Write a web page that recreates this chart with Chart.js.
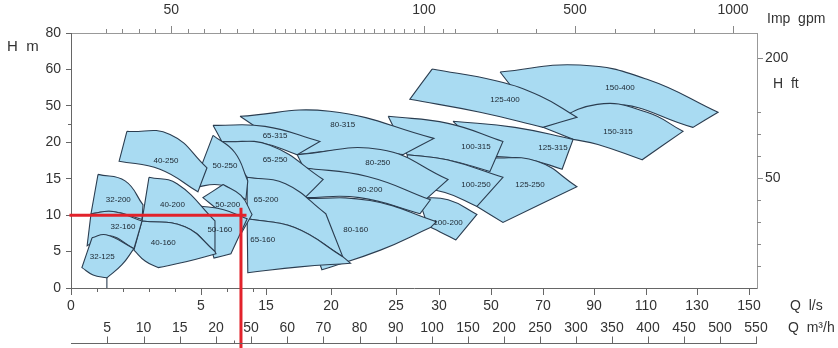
<!DOCTYPE html>
<html>
<head>
<meta charset="utf-8">
<script src="https://cdn.jsdelivr.net/npm/chart.js@4.4.1/dist/chart.umd.min.js"></script>
<style>
  html, body { margin: 0; padding: 0; background: #fff; }
</style>
</head>
<body>
<canvas id="c" width="838" height="348"></canvas>
<script>
// ---- axis values ----
const qLabels = [0, 5, 15, 20, 25, 30, 50, 70, 90, 110, 130, 150];           // Q l/s
const qMinor = [1, 2, 3, 4, 9, 13];
const m3Labels = [5, 10, 15, 20, 50, 60, 70, 80, 90, 100, 150, 200, 250, 300, 350, 400, 450, 500, 550]; // Q m3/h
const m3Minor = [35];
const hLabels = [0, 5, 10, 15, 20, 50, 60, 80];                               // H m
const hMinor = [35];
const ftLabels = [50, 200];                                                    // H ft
const ftMinor = [10, 20, 30, 40, 60, 70, 80];
const gpmLabels = [50, 100, 500, 1000];                                        // Imp gpm
const gpmMinor = [30, 35, 40, 45, 55, 60, 65, 70, 75, 85, 86, 87, 88, 89, 90, 91, 92, 93, 94, 95, 96, 97, 98, 99,
  150, 200, 300, 400, 625, 750, 875];

// ---- pump ranges (Q l/s, H m); each outline is a list of curve pieces, pieces meet at corners ----
const models = ['150-400', '150-315', '125-400', '125-315', '125-250', '100-315', '100-250', '100-200',
  '80-315', '80-250', '80-200', '80-160', '65-315', '65-250', '65-200', '65-160',
  '50-250', '50-200', '50-160', '40-250', '40-200', '40-160', '32-200', '32-160', '32-125'];

const outlines = [
  [[[53.5, 59.3], [84.5, 62.4], [110.4, 57.3], [138.1, 44.7]], [[128.4, 32.3], [96.2, 50.4], [70, 32.3]]],
  [[[70, 32.3], [91.2, 50.4], [110.4, 44.7], [124.5, 29.0]], [[108.5, 17.6], [91.5, 19.7], [81.8, 22.4]]],
  [[[29.2, 60.2], [52.3, 56.8], [68.9, 52.7], [83.3, 40.6]], [[70, 32.3], [45.8, 44.7], [26.6, 51.8]]],
  [[[35.4, 37.3], [59.2, 32.3], [81.8, 22.4]], [[77.5, 16.3], [65.0, 17.6], [49.6, 18.1]]],
  [[[49.6, 17.9], [67.7, 17.4], [83.3, 13.9]], [[54.6, 9.0], [44.6, 11.2]]],
  [[[24.4, 41.4], [33.5, 35.6], [54.6, 20.7]], [[49.6, 16.0], [33.1, 17.6], [26.3, 18.3]]],
  [[[26.3, 18.3], [33.1, 17.6], [54.6, 15.2]], [[44.6, 11.2], [32.3, 13.1], [26.6, 13.9]]],
  [[[27.6, 12.4], [33.5, 12.1], [44.6, 10.1]], [[36.5, 6.6], [30.4, 7.7], [28.7, 8.5]]],
  [[[11.0, 41.4], [19.9, 45.5], [29.4, 23.2]], [[25.8, 18.3], [21.5, 19.0], [17.4, 18.3]]],
  [[[17.4, 18.3], [23.8, 19.0], [33.5, 14.9]], [[28.4, 12.1], [22.6, 14.9], [17.9, 16.5]]],
  [[[17.9, 16.5], [22.8, 15.3], [29.0, 12.1]], [[27.8, 10.2], [22.2, 12.4], [18.0, 12.4]]],
  [[[17.4, 12.3], [23.0, 12.0], [29.7, 9.1]], [[29.0, 8.3], [23.8, 5.2], [19.3, 2.5]]],
  [[[6.85, 34.0], [14.85, 33.1], [19.15, 20.7]], [[17.4, 18.3], [14.4, 19.9], [8.2, 20.7]]],
  [[[8.2, 20.7], [15.3, 19.6], [19.4, 14.9]], [[18.0, 12.4], [15.5, 14.6], [12.1, 15.2]]],
  [[[12.1, 15.2], [16.5, 14.3], [19.6, 10.2]], [[20.9, 4.3], [17.2, 8.3], [12.1, 9.5]]],
  [[[12.1, 9.5], [17.2, 8.3], [20.9, 4.3]], [[21.5, 3.4], [17.6, 2.9], [12.2, 2.1]]],
  [[[6.85, 25.7], [10.2, 18.6], [12.2, 14.7]], [[11.9, 12.1], [8.2, 14.1], [4.7, 13.8]]],
  [[[8.4, 14.2], [11.15, 12.7], [12.85, 10.1]], [[11.0, 7.2], [8.2, 10.2], [5.3, 12.4]]],
  [[[4.9, 11.3], [8.5, 10.75], [12.1, 9.5]], [[9.6, 4.7], [7.0, 4.1]]],
  [[[2.15, 29.0], [3.81, 26.5], [5.92, 16.5]], [[4.88, 13.2], [3.42, 16.3], [1.85, 17.4]]],
  [[[3.0, 15.2], [4.08, 14.3], [7.15, 9.2]], [[7.15, 5.0], [4.38, 8.4], [2.73, 9.2]]],
  [[[2.73, 9.2], [4.38, 8.4], [7.15, 5.0]], [[7.31, 4.7], [4.42, 3.6], [3.35, 2.8]], [[3.35, 2.8], [2.85, 3.7], [2.42, 5.2]]],
  [[[1.04, 15.6], [2.08, 14.7], [2.77, 11.4]], [[2.73, 9.4], [1.62, 10.5], [0.77, 10.2]]],
  [[[0.77, 10.2], [1.62, 10.5], [2.73, 9.2]], [[2.42, 5.4], [1.42, 7.2], [0.62, 5.8]]],
  [[[0.81, 6.9], [1.35, 7.3], [2.42, 5.4]], [[2.42, 5.4], [1.96, 3.2], [1.38, 1.4]], [[1.38, 1.4], [0.85, 1.8], [0.42, 2.8]]]
];

const labelQ = [100, 99.2, 55.4, 73.9, 65.0, 44.2, 44.2, 33.5, 20.9, 23.6, 23.0, 21.9, 15.7, 15.7, 15.0, 14.5,
  8.7, 9.1, 7.9, 3.65, 3.9, 3.55, 1.82, 2.0, 1.2];
const labelH = [54.9, 29.0, 51.8, 19.3, 14.2, 19.4, 14.2, 9.0, 34.8, 17.2, 13.5, 8.0, 25.7, 17.6, 12.1, 6.6,
  16.8, 11.4, 8.0, 17.5, 11.4, 6.2, 12.1, 8.4, 4.3];

const stem = [[1.38, 1.4], [1.38, 0]];          // foot of 32-125
const dutyQ = 11.15, dutyH = 10;                // red duty point lines
const dutyLineH = [[-0.06, dutyH], [12.0, dutyH]];
const dutyLineQ = [[dutyQ, 11.0], [dutyQ, -9]];

// ---- broken (piecewise linear) scale ----
class BrokenScale extends Chart.LinearScale {
  static id = 'broken';
  _seg(list, key, v) {
    let i = 1;
    while (i < list.length - 1 && v > list[i][key]) i++;
    return i;
  }
  getPixelForValue(value) {
    const s = this.options.stops, last = s[s.length - 1][1];
    const i = this._seg(s, 0, value);
    const [v0, p0] = s[i - 1], [v1, p1] = s[i];
    const pos = p0 + (value - v0) * (p1 - p0) / (v1 - v0);
    return this.getPixelForDecimal(pos / last);
  }
  getValueForPixel(pixel) {
    const s = this.options.stops, last = s[s.length - 1][1];
    const pos = this.getDecimalForPixel(pixel) * last;
    const i = this._seg(s, 1, pos);
    const [v0, p0] = s[i - 1], [v1, p1] = s[i];
    return v0 + (pos - p0) * (v1 - v0) / (p1 - p0);
  }
  buildTicks() {
    return this.options.tickValues.map(v => ({ value: v }));
  }
}
Chart.register(BrokenScale);

// scale layouts: [value, position along axis]
const qStops = [[0, 0], [5, 130], [15, 195], [20, 260], [25, 325], [30, 368], [50, 420], [70, 472],
  [90, 523], [110, 575], [130, 626], [150, 678], [153.1, 686]];
const m3Stops = [[0, 0], [20, 145], [50, 180], [100, 361], [550, 685], [551.4, 686]];
const gpmStops = [[19.29, 0], [30, 35], [75, 182], [85, 204], [100, 353], [150, 372], [200, 384],
  [300, 426], [500, 504], [1000, 662], [1075.9, 686]];
const hStops = [[0, 0], [5, 1], [10, 2], [15, 3], [20, 4], [50, 5], [60, 6], [80, 7]];
const ftStops = [[0, 0], [80, 176], [200, 230], [255.6, 255]];

function outlinePoints(pieces) {
  const pts = [];
  pieces.forEach(piece => {
    piece.forEach(([q, h], k) => {
      pts.push({ x: q, y: h });
      if (k === 0 || k === piece.length - 1) pts.push({ x: q, y: h });
    });
  });
  pts.push({ x: pieces[0][0][0], y: pieces[0][0][1] });
  return pts;
}
const xy = arr => arr.map(([x, y]) => ({ x, y }));

const FAMILY = '"Liberation Sans", Arial, Helvetica, sans-serif';
Chart.defaults.font.family = FAMILY;
const tickText = { color: '#333', font: { size: 14 }, autoSkip: false, maxRotation: 0, callback: v => String(v) };
const grid = (color, len) => ({ display: true, drawOnChartArea: false, drawTicks: true, tickLength: len, color, tickColor: color });

const datasets = models.map((m, i) => ({
  label: m,
  data: outlinePoints(outlines[i]),
  fill: 'shape',
  backgroundColor: '#a9dbf2',
  borderColor: '#2b3d50',
  borderWidth: 1.1,
  tension: 0.45,
  pointRadius: 0,
  order: 10 + models.length - i
}));
datasets.push({ data: xy(stem), borderColor: '#2b3d50', borderWidth: 1.1, pointRadius: 0, fill: false, order: 5 });
[dutyLineH, dutyLineQ].forEach(line => datasets.push({
  data: xy(line), borderColor: '#e2222b', borderWidth: 3, pointRadius: 0, fill: false, clip: false, order: 0
}));

const extras = {
  id: 'extras',
  afterDatasetsDraw(chart) {
    const { ctx, scales } = chart;
    ctx.save();
    ctx.fillStyle = '#1c2630';
    ctx.font = '8px ' + FAMILY;
    ctx.textAlign = 'center';
    ctx.textBaseline = 'middle';
    models.forEach((m, i) => {
      ctx.fillText(m, scales.x.getPixelForValue(labelQ[i]), scales.y.getPixelForValue(labelH[i]));
    });
    ctx.restore();
  },
  afterDraw(chart) {
    const { ctx, scales: { x, x2, xt, y, y2 } } = chart;
    const line = (a, b, c, d) => { ctx.beginPath(); ctx.moveTo(a, b); ctx.lineTo(c, d); ctx.stroke(); };
    const px = (s, v) => Math.round(s.getPixelForValue(v)) + 0.5;
    ctx.save();
    ctx.lineWidth = 1;
    ctx.strokeStyle = '#666';
    qMinor.forEach(v => line(px(x, v), x.top, px(x, v), x.top + 4));
    hMinor.forEach(v => line(y.right - 3, px(y, v), y.right, px(y, v)));
    ctx.strokeStyle = '#888';
    gpmMinor.forEach(v => line(px(xt, v), xt.bottom, px(xt, v), xt.bottom - 4));
    ftMinor.forEach(v => line(y2.left, px(y2, v), y2.left + 4, px(y2, v)));
    // lower m3/h axis: line under its labels, ticks pointing up
    ctx.strokeStyle = '#666';
    const base = x2.bottom - 4.5;
    line(x2.left, base, x2.right, base);
    m3Labels.forEach(v => line(px(x2, v), base, px(x2, v), base - 7));
    m3Minor.forEach(v => line(px(x2, v), base, px(x2, v), base - 3));
    // axis names
    ctx.fillStyle = '#333';
    ctx.textAlign = 'left';
    ctx.textBaseline = 'middle';
    ctx.font = '15px ' + FAMILY;
    ctx.fillText('H  m', 7, 47);
    ctx.font = '14px ' + FAMILY;
    ctx.fillText('H  ft', 773, 84);
    ctx.fillText('Imp  gpm', 767, 19);
    ctx.fillText('Q  l/s', 790, 306);
    ctx.fillText('Q  m³/h', 788, 328);
    ctx.restore();
  }
};

new Chart(document.getElementById('c'), {
  type: 'line',
  data: { datasets },
  plugins: [extras],
  options: {
    responsive: false,
    devicePixelRatio: 1,
    animation: false,
    events: [],
    layout: { padding: 0 },
    plugins: { legend: { display: false }, tooltip: { enabled: false } },
    scales: {
      x: {
        type: 'broken', position: 'bottom', weight: 0, min: 0, max: 153.1, stops: qStops, tickValues: qLabels,
        grid: grid('#666', 7), border: { display: true, color: '#666' },
        ticks: { ...tickText, padding: 3 },
        afterFit: s => { s.height = 28; }
      },
      x2: {
        type: 'broken', position: 'bottom', weight: 1, min: 0, max: 551.4, stops: m3Stops, tickValues: m3Labels,
        grid: { display: false, drawTicks: false }, border: { display: false },
        ticks: { ...tickText, padding: 4 },
        afterFit: s => { s.height = 32; }
      },
      xt: {
        type: 'broken', position: 'top', min: 19.29, max: 1075.9, stops: gpmStops, tickValues: gpmLabels,
        grid: grid('#888', 7), border: { display: true, color: '#999' },
        ticks: { ...tickText, padding: 7 },
        afterFit: s => { s.height = 33; }
      },
      y: {
        type: 'broken', position: 'left', min: 0, max: 80, stops: hStops, tickValues: hLabels,
        grid: grid('#666', 5), border: { display: true, color: '#666' },
        ticks: { ...tickText, padding: 5 },
        afterFit: s => { s.width = 71; }
      },
      y2: {
        type: 'broken', position: 'right', min: 0, max: 255.6, stops: ftStops, tickValues: ftLabels,
        grid: grid('#888', 6), border: { display: true, color: '#999' },
        ticks: { ...tickText, padding: 2 },
        afterFit: s => { s.width = 81; }
      }
    }
  }
});
</script>
</body>
</html>
